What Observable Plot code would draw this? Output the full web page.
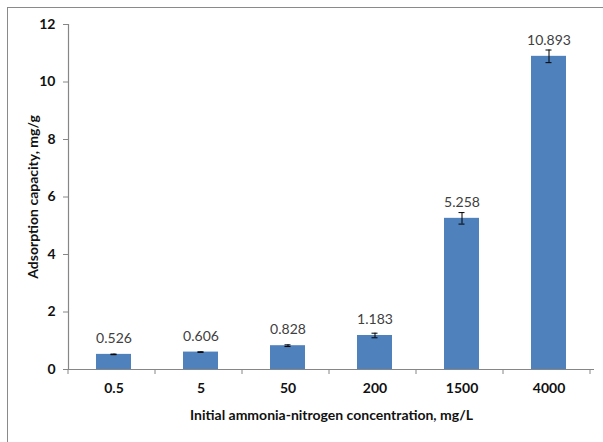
<!DOCTYPE html>
<html>
<head>
<meta charset="utf-8">
<script src="https://cdn.jsdelivr.net/npm/d3@7"></script>
<script src="https://cdn.jsdelivr.net/npm/@observablehq/plot@0.6"></script>
<style>
  html, body { margin: 0; padding: 0; background: #fff; overflow: hidden; }
  #wrap { position: relative; width: 603px; height: 442px; }
  #border { position: absolute; left: 7px; top: 7px; width: 640px; height: 480px;
            border-left: 1.5px solid #8a8a8a; border-top: 1.5px solid #8a8a8a; pointer-events: none; }
  #chart { position: absolute; left: 0; top: 0; }
</style>
</head>
<body>
<div id="wrap"><div id="chart"></div><div id="border"></div></div>
<script>
const categories = ["0.5", "5", "50", "200", "1500", "4000"];
const values = [0.526, 0.606, 0.828, 1.183, 5.258, 10.893];
const errors = [0.01, 0.01, 0.03, 0.08, 0.2, 0.22];
const yTicks = [0, 2, 4, 6, 8, 10, 12];
const xTitle = "Initial ammonia-nitrogen concentration, mg/L";
const yTitle = "Adsorption capacity, mg/g";

const data = categories.map((c, i) => ({c, v: values[i], e: errors[i]}));
const FONT = '"Liberation Sans Narrow", "Arial Narrow", Lato, sans-serif';
const AXIS = "#868686";

function boundaryTicks(index, scales, values, dimensions) {
  const {x, y} = scales;
  const step = x(categories[1]) - x(categories[0]);
  const y0 = y(0);
  const g = d3.create("svg:g");
  for (let i = 0; i <= categories.length; i++) {
    const px = dimensions.marginLeft + i * step;
    g.append("line").attr("x1", px).attr("x2", px).attr("y1", y0).attr("y2", y0 + 5)
      .attr("stroke", AXIS).attr("stroke-width", 1);
  }
  return g.node();
}

const chart = Plot.plot({
  width: 603,
  height: 442,
  marginLeft: 68,
  marginRight: 9,
  marginTop: 24,
  marginBottom: 73,
  style: {fontFamily: FONT, background: "transparent", overflow: "visible"},
  x: {domain: categories, paddingInner: 0.6, paddingOuter: 0.3, axis: null},
  y: {domain: [0, 12], axis: null},
  marks: [
    Plot.barY(data, {x: "c", y: "v", fill: "#4F81BD"}),
    Plot.ruleX(data, {x: "c", y1: d => d.v - d.e, y2: d => d.v + d.e, stroke: "#000", strokeWidth: 1}),
    Plot.tickY(data, {x: "c", y: d => d.v + d.e, insetLeft: 14.5, insetRight: 14.5, stroke: "#000", strokeWidth: 1}),
    Plot.tickY(data, {x: "c", y: d => d.v - d.e, insetLeft: 14.5, insetRight: 14.5, stroke: "#000", strokeWidth: 1}),
    Plot.text(data, {x: "c", y: "v", text: d => d.v.toFixed(3), dy: -16, fill: "#404040", fontSize: 14}),
    Plot.axisY({ticks: yTicks, tickSize: 5, tickPadding: 8, fontWeight: "bold", fontSize: 14, stroke: AXIS, fill: "#111", label: null}),
    Plot.axisX({tickSize: 0, tickPadding: 14, fontWeight: "bold", fontSize: 14, fill: "#111", label: null}),
    Plot.ruleY([0], {stroke: AXIS, strokeWidth: 1.2}),
    Plot.frame({anchor: "left", stroke: AXIS, strokeWidth: 1.2}),
    boundaryTicks,
    Plot.text([yTitle], {frameAnchor: "left", dx: -35, rotate: -90, textAnchor: "middle", lineAnchor: "middle", fontWeight: "bold", fontSize: 14, fill: "#111"}),
    Plot.text([xTitle], {frameAnchor: "bottom", dy: 46, textAnchor: "middle", lineAnchor: "middle", fontWeight: "bold", fontSize: 14, fill: "#111"})
  ]
});
document.getElementById("chart").appendChild(chart);
</script>
</body>
</html>
